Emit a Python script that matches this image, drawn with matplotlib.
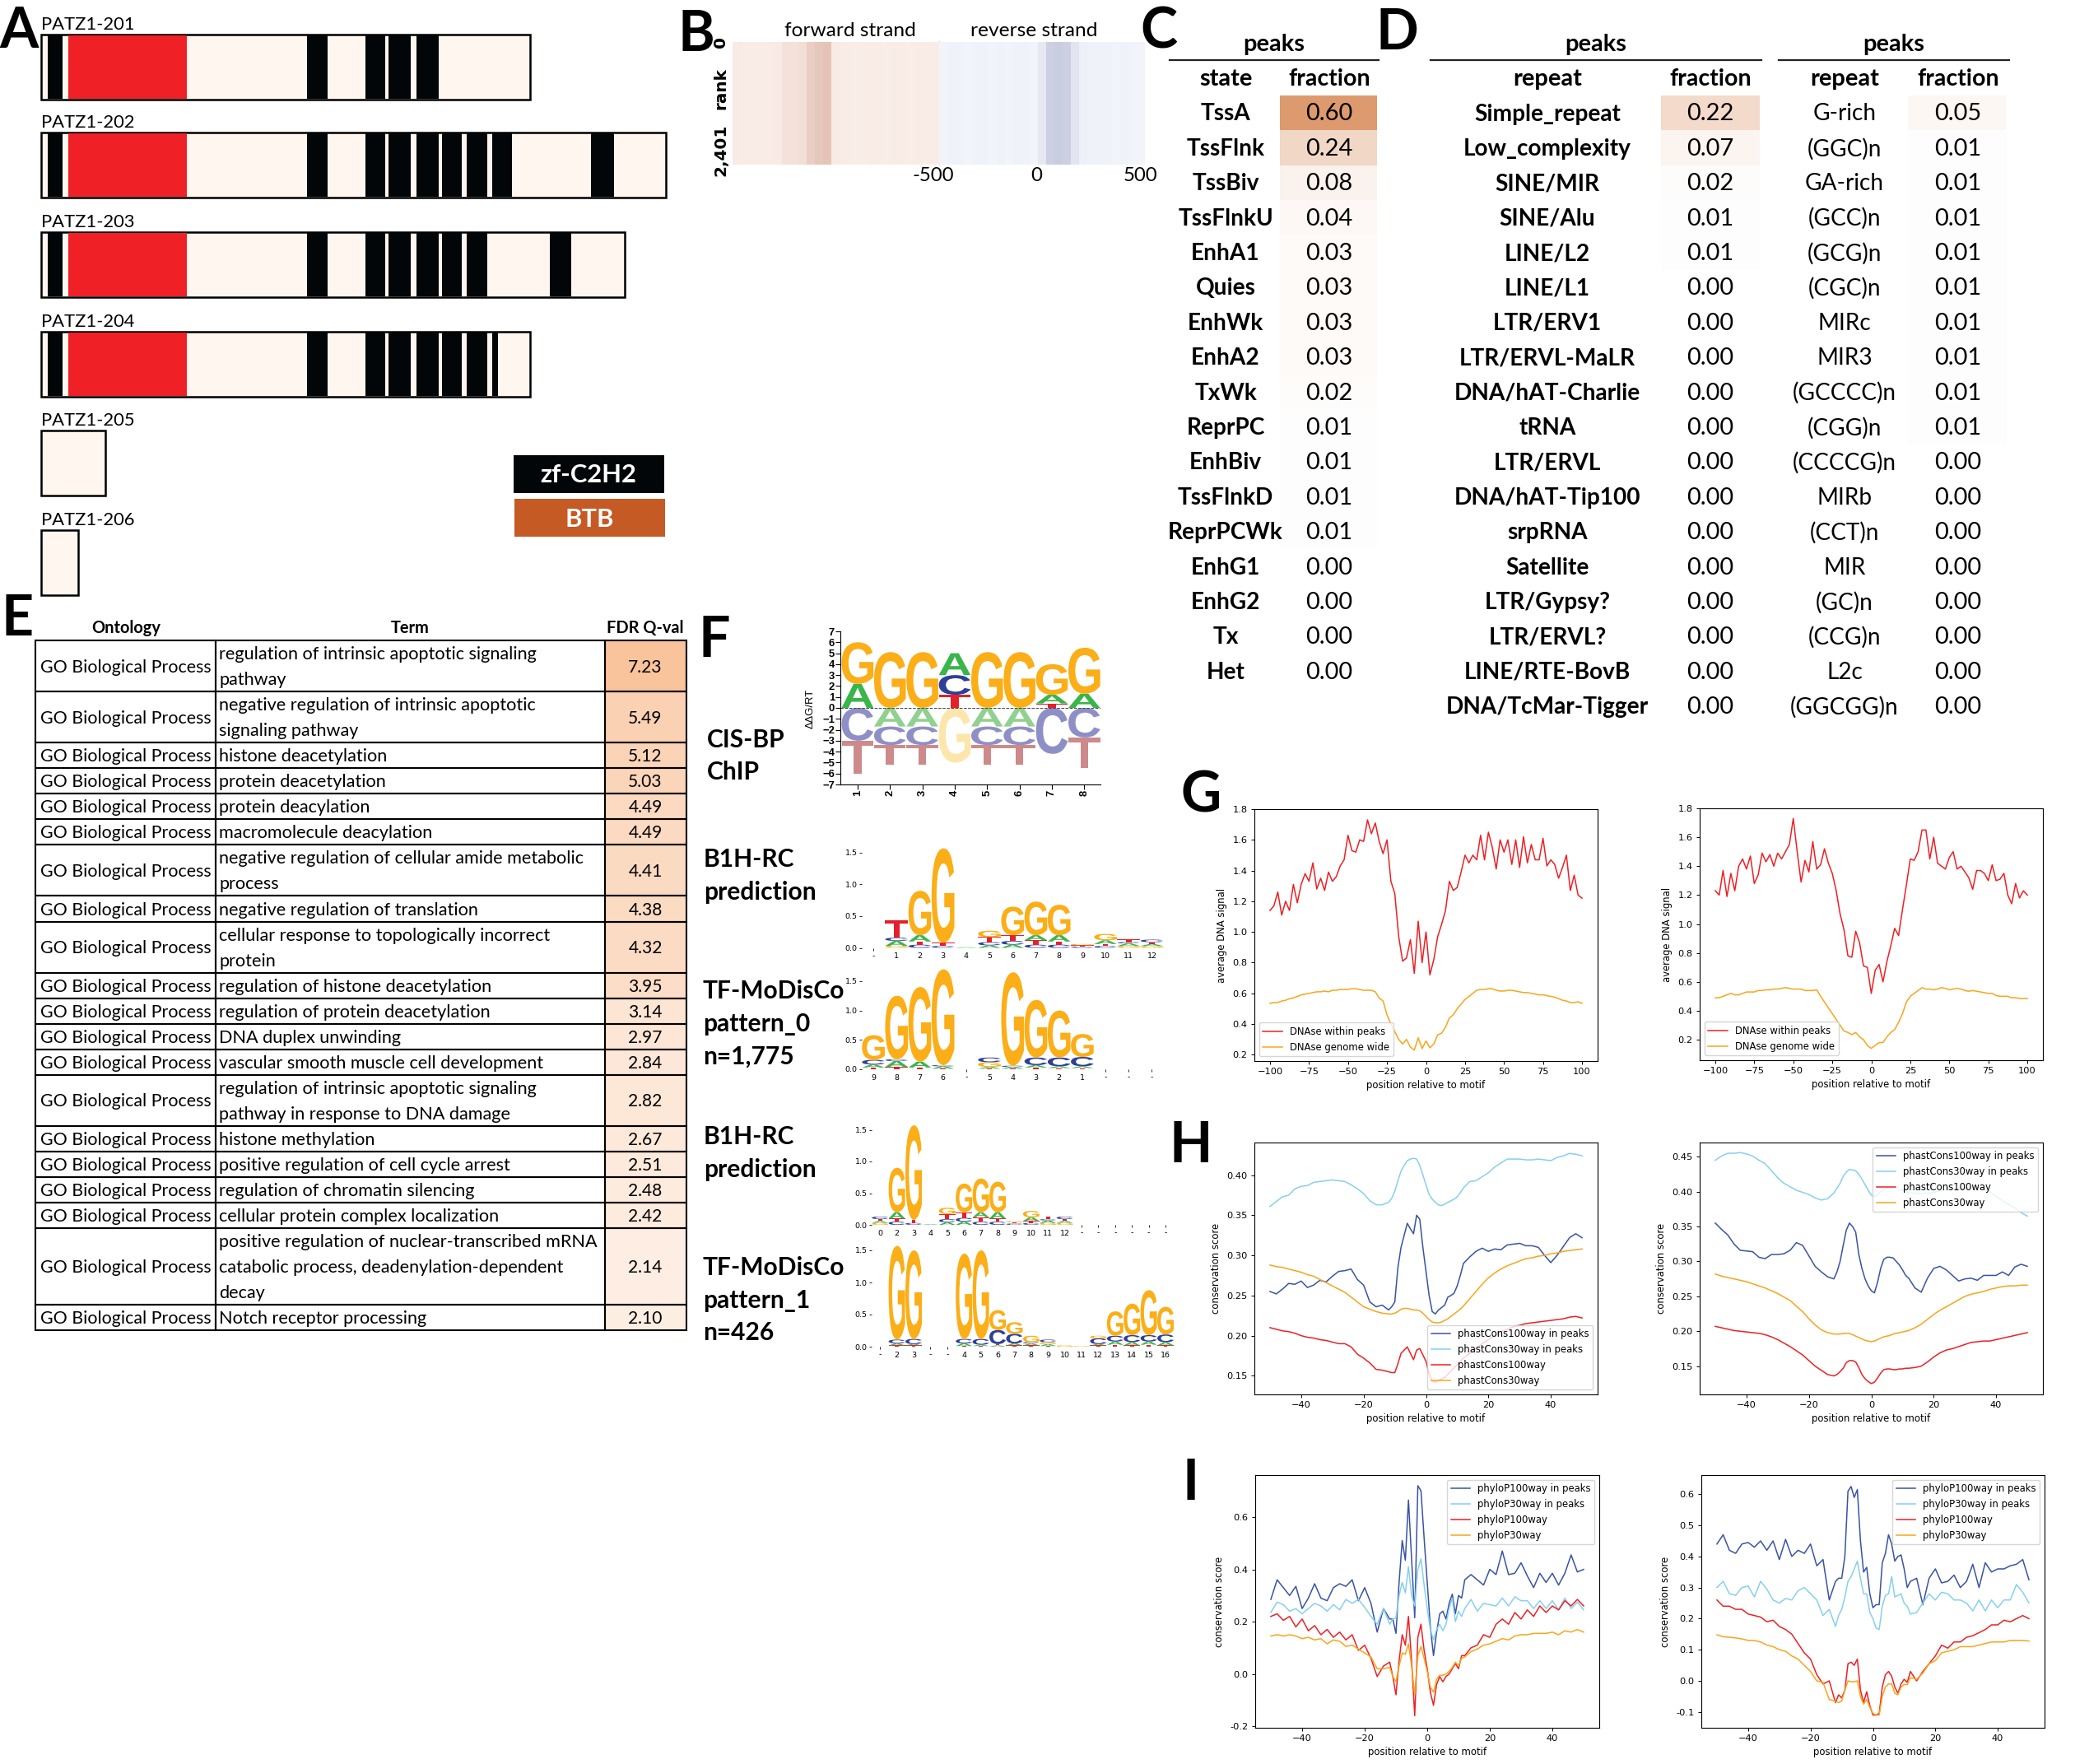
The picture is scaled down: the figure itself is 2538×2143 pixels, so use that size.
import numpy as np
import matplotlib
matplotlib.use('Agg')
import matplotlib.pyplot as plt
from matplotlib.colors import LinearSegmentedColormap
from matplotlib.font_manager import FontProperties
from matplotlib.patches import PathPatch, Rectangle
from matplotlib.textpath import TextPath
from matplotlib.transforms import Affine2D

W, H = 2538, 2143
plt.rcParams['font.family'] = ['Lato', 'DejaVu Sans']

# ---- panel A: transcript lengths and domains (units from start of the protein)
transcripts = ['PATZ1-201', 'PATZ1-202', 'PATZ1-203', 'PATZ1-204', 'PATZ1-205', 'PATZ1-206']
lengths = [594, 759, 709, 594, 78, 45]
btb = [(33, 177), (33, 177), (33, 177), (33, 177), None, None]
zf_common = [(8, 26), (323, 348), (394, 418), (422, 449), (456, 483)]
zf_extra = [[],
            [(487, 511), (517, 542), (548, 572), (668, 696)],
            [(487, 511), (517, 542), (618, 644)],
            [(487, 511), (517, 542), (548, 555)],
            None, None]

# ---- panel B: mean signal per column of each strand
fwd_profile = [.08, .07, .07, .07, .07, .08, .13, .13, .15, .24, .28, .30,
               .08, .07, .06, .06, .07, .07, .06, .07, .07, .06, .07, .07, .07]
rev_profile = [.04, .05, .05, .04, .05, .05, .04, .05, .04, .05, .05, .04,
               .10, .22, .24, .22, .12, .06, .05, .05, .05, .04, .05, .04, .04]

# ---- panels C, D
state_names = ['TssA', 'TssFlnk', 'TssBiv', 'TssFlnkU', 'EnhA1', 'Quies', 'EnhWk', 'EnhA2', 'TxWk',
               'ReprPC', 'EnhBiv', 'TssFlnkD', 'ReprPCWk', 'EnhG1', 'EnhG2', 'Tx', 'Het']
state_frac = [.60, .24, .08, .04, .03, .03, .03, .03, .02, .01, .01, .01, .01, 0, 0, 0, 0]
repeat_names = ['Simple_repeat', 'Low_complexity', 'SINE/MIR', 'SINE/Alu', 'LINE/L2', 'LINE/L1', 'LTR/ERV1',
                'LTR/ERVL-MaLR', 'DNA/hAT-Charlie', 'tRNA', 'LTR/ERVL', 'DNA/hAT-Tip100', 'srpRNA',
                'Satellite', 'LTR/Gypsy?', 'LTR/ERVL?', 'LINE/RTE-BovB', 'DNA/TcMar-Tigger']
repeat_frac = [.22, .07, .02, .01, .01, 0, 0, 0, 0, 0, 0, 0, 0, 0, 0, 0, 0, 0]
motif_names = ['G-rich', '(GGC)n', 'GA-rich', '(GCC)n', '(GCG)n', '(CGC)n', 'MIRc', 'MIR3', '(GCCCC)n',
               '(CGG)n', '(CCCCG)n', 'MIRb', '(CCT)n', 'MIR', '(GC)n', '(CCG)n', 'L2c', '(GGCGG)n']
motif_frac = [.05, .01, .01, .01, .01, .01, .01, .01, .01, .01, 0, 0, 0, 0, 0, 0, 0, 0]

# ---- panel E
go_terms = [['regulation of intrinsic apoptotic signaling', 'pathway'],
            ['negative regulation of intrinsic apoptotic', 'signaling pathway'],
            ['histone deacetylation'], ['protein deacetylation'], ['protein deacylation'],
            ['macromolecule deacylation'],
            ['negative regulation of cellular amide metabolic', 'process'],
            ['negative regulation of translation'],
            ['cellular response to topologically incorrect', 'protein'],
            ['regulation of histone deacetylation'], ['regulation of protein deacetylation'],
            ['DNA duplex unwinding'], ['vascular smooth muscle cell development'],
            ['regulation of intrinsic apoptotic signaling', 'pathway in response to DNA damage'],
            ['histone methylation'], ['positive regulation of cell cycle arrest'],
            ['regulation of chromatin silencing'], ['cellular protein complex localization'],
            ['positive regulation of nuclear-transcribed mRNA', 'catabolic process, deadenylation-dependent', 'decay'],
            ['Notch receptor processing']]
go_q = [7.23, 5.49, 5.12, 5.03, 4.49, 4.49, 4.41, 4.38, 4.32, 3.95, 3.14, 2.97, 2.84, 2.82, 2.67, 2.51,
        2.48, 2.42, 2.14, 2.10]

# ---- panel F: letter stacks, bottom to top (letter, height)
cisbp_pos = [[('A', 2.2), ('G', 3.8)], [('G', 5.1)], [('G', 5.1)], [('T', 1.2), ('C', 1.8), ('A', 2.0)],
             [('G', 5.1)], [('G', 5.1)], [('T', .4), ('A', .8), ('G', 2.8)], [('A', 1.3), ('G', 4.2)]]
cisbp_neg = [[('C', 3.0), ('T', 3.0)], [('A', 1.7), ('C', 1.7), ('T', 1.8)], [('A', 1.7), ('C', 1.7), ('T', 1.8)],
             [('G', 5.0)], [('A', 1.7), ('C', 1.7), ('T', 1.8)], [('A', 1.7), ('C', 1.7), ('T', 1.8)],
             [('C', 4.2)], [('C', 2.7), ('T', 2.8)]]
b1h_top = [[],
           [('G', .03), ('A', .08), ('C', .05), ('T', .27)],
           [('C', .05), ('T', .05), ('A', .10), ('G', .70)],
           [('C', .03), ('T', .05), ('G', 1.49)],
           [('A', .01)],
           [('A', .04), ('C', .05), ('T', .08), ('G', .10)],
           [('A', .05), ('C', .06), ('T', .09), ('G', .45)],
           [('C', .05), ('T', .07), ('A', .08), ('G', .53)],
           [('C', .05), ('T', .05), ('A', .10), ('G', .48)],
           [('C', .02), ('T', .02), ('G', .02)],
           [('C', .03), ('T', .03), ('A', .06), ('G', .10)],
           [('G', .03), ('A', .04), ('C', .02), ('T', .04)],
           [('G', .03), ('A', .03), ('T', .03), ('C', .04)]]
b1h_top_labels = ['-', '1', '2', '3', '4', '5', '6', '7', '8', '9', '10', '11', '12']
pattern0 = [[('T', .03), ('A', .05), ('C', .08), ('G', .42)],
            [('T', .04), ('A', .10), ('C', .03), ('G', 1.08)],
            [('T', .03), ('A', .10), ('G', 1.27)],
            [('T', .01), ('A', .04), ('C', .02), ('G', 1.63)],
            [],
            [('T', .01), ('A', .03), ('G', .08), ('C', .08)],
            [('T', .01), ('A', .03), ('C', .02), ('G', 1.59)],
            [('T', .03), ('A', .04), ('C', .13), ('G', .98)],
            [('T', .02), ('A', .03), ('C', .15), ('G', .80)],
            [('T', .02), ('A', .03), ('C', .16), ('G', .39)],
            [], [], []]
pattern0_labels = ['9', '8', '7', '6', '-', '5', '4', '3', '2', '1', '-', '-', '-']
b1h_low = [[('G', .03), ('A', .03), ('T', .03), ('C', .04)],
           [('C', .05), ('T', .05), ('A', .10), ('G', .70)],
           [('C', .03), ('T', .05), ('G', 1.49)],
           [('A', .01)],
           [('A', .04), ('C', .05), ('T', .08), ('G', .10)],
           [('A', .05), ('C', .06), ('T', .09), ('G', .45)],
           [('C', .05), ('T', .07), ('A', .08), ('G', .53)],
           [('C', .05), ('T', .05), ('A', .10), ('G', .48)],
           [('C', .02), ('T', .02), ('G', .02)],
           [('C', .03), ('T', .03), ('A', .06), ('G', .10)],
           [('G', .03), ('A', .04), ('C', .02), ('T', .04)],
           [('G', .03), ('A', .03), ('T', .03), ('C', .04)],
           [], [], [], [], [], []]
b1h_low_labels = ['0', '2', '3', '4', '5', '6', '7', '8', '9', '10', '11', '12', '-', '-', '-', '-', '-', '-']
pattern1 = [[],
            [('T', .02), ('A', .03), ('C', .06), ('G', 1.46)],
            [('T', .02), ('A', .02), ('C', .08), ('G', 1.38)],
            [], [],
            [('T', .01), ('A', .04), ('C', .07), ('G', 1.33)],
            [('T', .01), ('A', .02), ('C', .09), ('G', 1.38)],
            [('A', .02), ('T', .02), ('C', .22), ('G', .31)],
            [('T', .02), ('A', .03), ('C', .15), ('G', .18)],
            [('T', .02), ('A', .03), ('C', .02), ('G', .10)],
            [('T', .01), ('A', .03), ('G', .03), ('C', .04)],
            [('G', .02)], [('G', .01)],
            [('T', .02), ('A', .02), ('C', .09), ('G', .04)],
            [('T', .03), ('A', .05), ('C', .09), ('G', .38)],
            [('T', .02), ('A', .05), ('C', .11), ('G', .49)],
            [('T', .03), ('A', .05), ('C', .10), ('G', .70)],
            [('T', .02), ('A', .05), ('C', .12), ('G', .43)]]
pattern1_labels = ['-', '2', '3', '-', '-', '4', '5', '6', '7', '8', '9', '10', '11', '12', '13', '14', '15', '16']

# ---- panel G
dnase_peak_l = [1.14, 1.17, 1.26, 1.11, 1.20, 1.14, 1.31, 1.19, 1.31, 1.38, 1.33, 1.45, 1.28, 1.35, 1.27, 1.39, 1.33,
                1.36, 1.43, 1.47, 1.63, 1.53, 1.52, 1.60, 1.59, 1.73, 1.64, 1.71, 1.59, 1.51, 1.60, 1.33, 1.25, .97,
                .81, .83, .95, .73, 1.07, .80, 1.00, .72, .82, .97, 1.05, 1.14, 1.33, 1.27, 1.29, 1.39, 1.50, 1.45,
                1.50, 1.47, 1.63, 1.47, 1.65, 1.55, 1.41, 1.60, 1.52, 1.60, 1.44, 1.60, 1.42, 1.62, 1.45, 1.57, 1.47,
                1.47, 1.61, 1.43, 1.47, 1.44, 1.35, 1.42, 1.50, 1.27, 1.37, 1.24, 1.22]
dnase_wide_l = [.535, .54, .54, .55, .555, .565, .57, .58, .59, .595, .60, .605, .61, .61, .615, .61, .62, .62, .625,
                .625, .625, .63, .63, .625, .62, .62, .62, .61, .57, .55, .46, .40, .35, .30, .27, .30, .25, .23, .31,
                .24, .29, .245, .27, .33, .34, .38, .44, .46, .50, .53, .56, .58, .60, .62, .625, .625, .63, .63, .62,
                .615, .615, .62, .62, .615, .61, .605, .605, .60, .595, .59, .59, .585, .58, .575, .565, .555, .55,
                .54, .54, .545, .535]
dnase_peak_r = [1.23, 1.20, 1.37, 1.19, 1.35, 1.23, 1.40, 1.45, 1.38, 1.47, 1.28, 1.34, 1.49, 1.43, 1.48, 1.40, 1.49,
                1.45, 1.50, 1.55, 1.73, 1.50, 1.29, 1.44, 1.36, 1.57, 1.38, 1.41, 1.52, 1.42, 1.35, 1.23, 1.07, .96,
                .78, .77, .95, .87, .71, .70, .52, .68, .72, .60, .74, .85, .97, .92, 1.10, 1.27, 1.45, 1.44, 1.50,
                1.65, 1.65, 1.45, 1.60, 1.42, 1.40, 1.38, 1.46, 1.50, 1.38, 1.40, 1.36, 1.32, 1.24, 1.37, 1.37, 1.35,
                1.30, 1.41, 1.30, 1.31, 1.35, 1.20, 1.14, 1.28, 1.18, 1.23, 1.20]
dnase_wide_r = [.49, .49, .50, .51, .52, .51, .51, .52, .53, .53, .53, .54, .54, .545, .545, .55, .55, .555, .56, .555,
                .55, .55, .55, .54, .54, .54, .545, .50, .46, .42, .38, .34, .30, .26, .25, .235, .25, .22, .20, .16,
                .14, .16, .18, .18, .22, .25, .27, .32, .38, .46, .50, .52, .54, .56, .55, .55, .545, .55, .56, .555,
                .545, .55, .555, .55, .54, .535, .54, .535, .53, .525, .52, .52, .505, .50, .50, .50, .49, .49, .485,
                .485, .485]

# ---- panels H and I share these positions
motif_pos = list(range(-50, -13, 2)) + list(range(-12, 13)) + list(range(14, 51, 2))

cons100_peak_l = [.255, .252, .258, .265, .264, .268, .260, .263, .269, .267, .274, .280, .281, .283, .270, .263, .242,
                  .236, .238, .232, .236, .242, .285, .31, .325, .34, .333, .327, .35, .345, .31, .28, .25, .23, .227,
                  .232, .235, .238, .248, .25, .253, .262, .275, .29, .298, .305, .309, .305, .308, .307, .313, .314,
                  .315, .312, .312, .31, .30, .291, .30, .311, .322, .327, .322]
cons30_peak_l = [.361, .367, .373, .375, .383, .386, .387, .391, .392, .393, .394, .393, .392, .388, .383, .377, .368,
                 .363, .363, .366, .371, .38, .393, .405, .412, .418, .42, .421, .42, .412, .40, .388, .376, .37, .366,
                 .363, .362, .364, .366, .368, .37, .373, .378, .384, .392, .393, .398, .403, .41, .415, .42, .42, .42,
                 .419, .419, .42, .419, .418, .422, .424, .427, .426, .424]
cons100_l = [.21, .208, .206, .205, .203, .20, .198, .197, .195, .194, .192, .19, .19, .186, .177, .172, .166, .158,
             .157, .155, .154, .154, .165, .178, .182, .186, .178, .17, .182, .184, .176, .168, .152, .143, .142, .144,
             .146, .148, .152, .156, .16, .164, .168, .172, .178, .184, .19, .195, .20, .205, .208, .211, .213, .215,
             .216, .217, .218, .219, .22, .221, .223, .224, .222]
cons30_l = [.288, .286, .285, .283, .281, .279, .276, .274, .27, .266, .262, .258, .254, .248, .242, .236, .233, .23,
            .228, .227, .227, .228, .23, .233, .234, .234, .233, .232, .232, .231, .228, .224, .22, .217, .216, .216,
            .217, .219, .221, .224, .227, .23, .233, .237, .246, .255, .264, .272, .278, .283, .287, .29, .293, .296,
            .297, .299, .30, .302, .303, .305, .306, .307, .308]
cons100_peak_r = [.355, .346, .338, .325, .316, .315, .314, .306, .304, .31, .31, .311, .316, .327, .323, .308, .293,
                  .285, .278, .275, .285, .30, .323, .345, .355, .35, .342, .31, .29, .275, .265, .258, .255, .27, .29,
                  .303, .306, .306, .305, .30, .295, .288, .28, .276, .262, .256, .276, .29, .293, .288, .28, .272,
                  .275, .276, .273, .28, .28, .28, .285, .28, .292, .296, .293]
cons30_peak_r = [.445, .451, .455, .455, .456, .454, .451, .445, .44, .43, .42, .412, .407, .402, .399, .396, .391,
                 .388, .39, .398, .405, .412, .422, .428, .432, .431, .43, .425, .418, .41, .402, .395, .393, .395, .40,
                 .403, .405, .405, .405, .404, .403, .402, .40, .398, .398, .397, .398, .399, .401, .403, .404, .405,
                 .405, .406, .406, .405, .40, .393, .387, .382, .377, .37, .365]
cons100_r = [.207, .205, .203, .201, .20, .199, .198, .197, .195, .192, .188, .183, .178, .172, .166, .158, .15, .144,
             .138, .136, .138, .142, .147, .155, .158, .158, .156, .148, .138, .132, .128, .125, .127, .133, .14, .145,
             .146, .146, .145, .145, .146, .146, .147, .147, .148, .15, .156, .163, .169, .173, .175, .178, .181, .184,
             .185, .186, .186, .188, .19, .192, .194, .196, .198]
cons30_r = [.282, .279, .277, .275, .273, .271, .268, .265, .262, .258, .254, .249, .244, .236, .228, .218, .209, .202,
            .198, .196, .196, .196, .197, .197, .197, .195, .193, .191, .189, .187, .186, .185, .186, .188, .19, .192,
            .193, .194, .196, .197, .198, .199, .20, .201, .205, .21, .217, .224, .23, .235, .24, .245, .25, .253, .255,
            .257, .26, .262, .264, .265, .265, .266, .266]

phylo100_peak_l = [.285, .36, .33, .30, .335, .25, .29, .345, .29, .28, .33, .345, .335, .36, .28, .33, .27, .16, .25,
                   .21, .21, .155, .35, .51, .435, .665, .44, .215, .72, .70, .52, .35, .18, .07, .16, .23, .24, .21,
                   .27, .305, .23, .30, .29, .36, .38, .36, .34, .40, .38, .47, .38, .385, .425, .375, .33, .385, .35,
                   .385, .34, .385, .455, .39, .40]
phylo30_peak_l = [.235, .275, .265, .24, .25, .23, .25, .27, .26, .24, .265, .245, .285, .27, .285, .255, .22, .19, .25,
                  .19, .21, .215, .30, .35, .31, .41, .30, .26, .40, .44, .34, .25, .17, .13, .17, .19, .165, .19, .25,
                  .29, .20, .24, .22, .25, .285, .24, .27, .265, .26, .29, .26, .295, .28, .28, .25, .28, .25, .28,
                  .245, .29, .25, .275, .245]
phylo100_l = [.22, .23, .205, .22, .18, .21, .165, .185, .15, .17, .14, .16, .13, .15, .09, .11, .06, -.01, .03, .045,
              -.01, -.08, .05, .15, .11, .22, .05, -.16, .14, .19, .09, .02, -.07, -.12, -.04, -.01, -.03, -.01, 0,
              .02, .04, .02, .07, .07, .10, .11, .15, .14, .19, .21, .19, .235, .21, .245, .22, .26, .235, .26, .245,
              .28, .26, .285, .26]
phylo30_l = [.145, .15, .145, .15, .145, .135, .14, .13, .135, .115, .13, .125, .105, .11, .095, .08, .065, .02, .02,
             .025, -.01, -.03, .03, .08, .075, .115, .03, -.08, .07, .105, .06, .01, -.05, -.07, -.02, -.005, -.005,
             0, .01, .025, .045, .03, .06, .065, .085, .095, .11, .115, .125, .135, .13, .145, .15, .15, .155, .155,
             .155, .16, .15, .165, .16, .17, .16]
phylo100_peak_r = [.44, .47, .42, .41, .44, .445, .43, .45, .42, .45, .39, .455, .40, .42, .41, .44, .37, .39, .26, .32,
                   .33, .33, .40, .61, .625, .59, .615, .45, .35, .365, .28, .235, .245, .245, .38, .41, .47, .44, .385,
                   .40, .405, .36, .30, .32, .33, .245, .33, .36, .315, .32, .34, .30, .32, .375, .30, .38, .35, .36,
                   .36, .37, .375, .39, .325]
phylo30_peak_r = [.30, .32, .28, .275, .30, .305, .27, .32, .295, .26, .25, .265, .26, .29, .30, .28, .26, .21, .23,
                  .175, .21, .23, .27, .32, .335, .36, .385, .33, .28, .28, .22, .20, .17, .165, .24, .275, .28, .335,
                  .27, .275, .28, .25, .24, .215, .22, .25, .28, .26, .285, .28, .26, .26, .25, .225, .26, .225, .26,
                  .235, .26, .26, .31, .285, .25]
phylo100_r = [.26, .24, .24, .23, .23, .215, .21, .205, .19, .195, .175, .165, .15, .12, .09, .07, .02, -.01, 0, -.07,
              -.045, -.055, -.03, .055, .06, .05, .07, -.03, -.07, -.035, -.08, -.11, -.11, -.105, -.02, .02, .03,
              .015, -.02, -.04, -.01, .005, -.005, .03, 0, .03, .055, .08, .115, .105, .125, .125, .14, .145, .155,
              .165, .18, .18, .195, .19, .20, .21, .20]
phylo30_r = [.148, .142, .14, .138, .135, .13, .13, .125, .115, .11, .10, .095, .08, .07, .05, .03, 0, -.005, -.06,
             -.065, -.07, -.065, -.03, 0, -.003, -.003, 0, -.05, -.075, -.06, -.085, -.105, -.11, -.11, -.05, -.02,
             -.01, -.01, -.04, -.045, -.02, -.012, -.012, .01, .005, .025, .055, .065, .09, .095, .10, .11, .11, .11,
             .115, .12, .125, .125, .125, .13, .13, .13, .128]

RED, ORANGE, NAVY, SKY = '#EE2024', '#F9A51A', '#3953A4', '#86D0F0'
LOGO_COL = {'G': '#FBAE17', 'A': '#39B54A', 'C': '#2E3F97', 'T': '#E5202A'}
LOGO_PALE = {'G': '#FDE6AC', 'A': '#90D090', 'C': '#8F8FC8', 'T': '#CC8A8A'}
SANS = ['DejaVu Sans']

fig = plt.figure(figsize=(W / 100, H / 100), dpi=100)
bg = fig.add_axes([0, 0, 1, 1])
bg.set_xlim(0, W)
bg.set_ylim(H, 0)
bg.axis('off')


def pt(px):
    return px * 0.72


def add_ax(x0, y0, x1, y1):
    return fig.add_axes([x0 / W, 1 - y1 / H, (x1 - x0) / W, (y1 - y0) / H])


def box(x0, y0, x1, y1, fc, ec='none', lw=0, z=1):
    bg.add_patch(Rectangle((x0, y0), x1 - x0, y1 - y0, facecolor=fc, edgecolor=ec, linewidth=lw, zorder=z))


# panel letters
for s, x, y in [('A', 23, 39), ('B', 846, 42), ('C', 1408, 39), ('D', 1697, 40), ('E', 21, 753),
                ('F', 868, 779), ('G', 1459, 967), ('H', 1447, 1392), ('I', 1447, 1802)]:
    bg.text(x, y, s, fontsize=pt(68), fontweight='bold', ha='center', va='center', color='k')

# A
rows_y = [42, 161, 282, 403, 523, 644]
for i, name in enumerate(transcripts):
    y0 = rows_y[i]
    y1 = y0 + 79
    bg.text(50, y0 - 12, name, fontsize=pt(22), ha='left', va='center')
    box(50, y0, 50 + lengths[i], y1, '#FFF6F0', 'k', 1.8, 1)
    if btb[i] is not None:
        box(50 + btb[i][0], y0 + 1, 50 + btb[i][1], y1 - 1, '#EF2026', z=2)
        for a, b in zf_common + zf_extra[i]:
            box(50 + a, y0 + 1, 50 + b, y1 - 1, '#020608', z=2)
box(624, 553, 807, 599, '#020608')
box(625, 606, 808, 652, '#C55A25')
bg.text(715, 577, 'zf-C2H2', color='w', fontsize=pt(31), fontweight='bold', ha='center', va='center')
bg.text(716, 631, 'BTB', color='w', fontsize=pt(31), fontweight='bold', ha='center', va='center')

# B
fwd_cmap = LinearSegmentedColormap.from_list('fwd', ['#FFF8F5', '#A84A28'])
rev_cmap = LinearSegmentedColormap.from_list('rev', ['#FAFCFF', '#303880'])
ax_f = add_ax(890, 51, 1141, 200)
ax_f.imshow(np.array(fwd_profile)[None, :], aspect='auto', cmap=fwd_cmap, vmin=0, vmax=1, interpolation='nearest')
ax_f.axis('off')
ax_r = add_ax(1141, 51, 1391, 200)
ax_r.imshow(np.array(rev_profile)[None, :], aspect='auto', cmap=rev_cmap, vmin=0, vmax=1, interpolation='nearest')
ax_r.axis('off')
bg.plot([1141, 1141], [50, 200], color='#C8CCD8', lw=0.8)
bg.text(1033, 38, 'forward strand', fontsize=pt(24.5), ha='center', va='center')
bg.text(1256, 38, 'reverse strand', fontsize=pt(24.5), ha='center', va='center')
for s, x in [('-500', 1134), ('0', 1259), ('500', 1386)]:
    bg.text(x, 214, s, fontsize=pt(24), ha='center', va='center')
for s, y in [('0', 51), ('rank', 108), ('2,401', 182)]:
    bg.text(876, y, s, fontsize=pt(20), family=SANS, fontweight='bold', rotation=90, ha='center', va='center')

# C, D
frac_cmap = LinearSegmentedColormap.from_list('frac', ['#FFFFFF', '#DD9A6E'])


def frac_table(names, vals, xn, xf, cell, bold, head):
    bg.text(xn, 96, head, fontsize=pt(29), fontweight='bold', ha='center', va='center')
    bg.text(xf, 96, 'fraction', fontsize=pt(28.5), fontweight='bold', ha='center', va='center')
    for i, (n, v) in enumerate(zip(names, vals)):
        y = 137 + i * 42.4
        box(cell[0], y - 21.2, cell[1], y + 21.2, frac_cmap(v / .6), z=0)
        bg.text(xn, y + 1.5, n, fontsize=pt(28), fontweight='bold' if bold else 'normal', ha='center', va='center')
        bg.text(xf, y + 1.5, '%.2f' % v, fontsize=pt(29), ha='center', va='center')


frac_table(state_names, state_frac, 1489, 1615, (1555, 1673), True, 'state')
frac_table(repeat_names, repeat_frac, 1880, 2078, (2018, 2138), True, 'repeat')
frac_table(motif_names, motif_frac, 2241, 2379, (2318, 2438), False, 'repeat')
for x0, x1 in [(1421, 1675), (1738, 2140), (2161, 2441)]:
    bg.plot([x0, x1], [73, 73], color='#222222', lw=1.6)
    bg.text((x0 + x1) / 2, 54, 'peaks', fontsize=pt(29), fontweight='bold', ha='center', va='center')

# E
go_cmap = LinearSegmentedColormap.from_list('go', ['#FFFFFF', '#F9C39B'])
col_x = [43, 262, 735, 834]
line_h = 31.05
for s, x in [('Ontology', 153), ('Term', 498), ('FDR Q-val', 784)]:
    bg.text(x, 763, s, fontsize=pt(20), fontweight='bold', ha='center', va='center')
y = 778
for lines, q in zip(go_terms, go_q):
    h = len(lines) * line_h
    box(col_x[2], y, col_x[3], y + h, go_cmap(q / 7.23), z=1)
    for cx0, cx1 in zip(col_x[:-1], col_x[1:]):
        box(cx0, y, cx1, y + h, 'none', 'k', 1.5, 3)
    bg.text(153, y + h / 2 + 1.5, 'GO Biological Process', fontsize=pt(21.4), ha='center', va='center', zorder=4)
    for k, line in enumerate(lines):
        bg.text(266, y + (k + .5) * line_h + 1.5, line, fontsize=pt(21.6), ha='left', va='center', zorder=4)
    bg.text(784, y + h / 2 + 1.5, '%.2f' % q, fontsize=pt(21), ha='center', va='center', zorder=4)
    y += h

# F labels
for s, x, y in [('CIS-BP', 859, 899), ('ChIP', 859, 938), ('B1H-RC', 855, 1044), ('prediction', 855, 1084),
                ('TF-MoDisCo', 854, 1204), ('pattern_0', 854, 1244), ('n=1,775', 854, 1284),
                ('B1H-RC', 855, 1381), ('prediction', 855, 1421), ('TF-MoDisCo', 854, 1540),
                ('pattern_1', 854, 1580), ('n=426', 854, 1619)]:
    bg.text(x, y, s, fontsize=pt(30), fontweight='bold', ha='left', va='center')

letter_font = FontProperties(family='Liberation Sans', weight='bold')


def draw_letter(ax, ch, x, y0, y1, color, width=0.98):
    tp = TextPath((0, 0), ch, size=1, prop=letter_font)
    bb = tp.get_extents()
    tr = Affine2D().translate(-bb.x0, -bb.y0).scale(width / bb.width, (y1 - y0) / bb.height)
    tr = tr.translate(x - width / 2, y0)
    ax.add_patch(PathPatch(tp, facecolor=color, edgecolor='none', transform=tr + ax.transData))


def draw_stack(ax, stacks, colors=LOGO_COL, sign=1, first=0):
    for i, stack in enumerate(stacks):
        base = 0
        for ch, hgt in stack:
            top = base + hgt
            if sign > 0:
                draw_letter(ax, ch, i + first, base, top, colors[ch])
            else:
                draw_letter(ax, ch, i + first, -top, -base, colors[ch])
            base = top


ax = add_ax(1021, 767, 1337, 953)
draw_stack(ax, cisbp_pos, first=1)
draw_stack(ax, cisbp_neg, colors=LOGO_PALE, sign=-1, first=1)
ax.axhline(0, color='#444444', lw=0.7, ls='--')
ax.set_xlim(.47, 8.5)
ax.set_ylim(-7, 7)
ax.set_yticks(range(-7, 8))
ax.set_xticks(range(1, 9))
ax.set_xticklabels(range(1, 9), rotation=90)
ax.tick_params(labelsize=pt(13), length=4, width=0.8, pad=1)
for lab in ax.get_xticklabels() + ax.get_yticklabels():
    lab.set_family(['Liberation Sans'])
    lab.set_fontweight('bold')
for sp in ['top', 'right']:
    ax.spines[sp].set_visible(False)
bg.text(985, 861, '\u0394\u0394G/RT', fontsize=pt(13), family=['Liberation Sans'], rotation=90, ha='center', va='center')


def small_logo(stacks, labels, x0, step, y_zero, unit, ytop):
    n = len(stacks)
    a = add_ax(x0, y_zero - unit * ytop, x0 + n * step, y_zero)
    draw_stack(a, stacks)
    a.set_xlim(-.5, n - .5)
    a.set_ylim(0, ytop)
    a.set_yticks([0, .5, 1, 1.5])
    a.set_yticklabels(['0.0', '0.5', '1.0', '1.5'])
    a.set_xticks(range(n))
    a.set_xticklabels(labels)
    a.tick_params(labelsize=pt(9.5), length=2, width=0.6, pad=2)
    for lab in a.get_xticklabels() + a.get_yticklabels():
        lab.set_family(SANS)
    for tick, lab in zip(a.xaxis.get_major_ticks(), labels):
        tick.tick1line.set_visible(lab == '-')
    for sp in a.spines.values():
        sp.set_visible(False)


small_logo(b1h_top, b1h_top_labels, 1047, 28.2, 1151.5, 77, 1.6)
small_logo(pattern0, pattern0_labels, 1047, 28.2, 1299, 71.4, 1.75)
small_logo(b1h_low, b1h_low_labels, 1059, 20.4, 1488, 77, 1.6)
small_logo(pattern1, pattern1_labels, 1059, 20.4, 1636, 78, 1.6)


def line_panel(rect, xs, series, xlim, ylim, yticks, yfmt, xticks, ylabel, loc):
    a = add_ax(*rect)
    for ys, col, lab in series:
        a.plot(xs, ys, color=col, lw=1.1, label=lab)
    a.set_xlim(*xlim)
    a.set_ylim(*ylim)
    a.set_yticks(yticks)
    a.set_yticklabels([yfmt % t for t in yticks])
    a.set_xticks(xticks)
    a.set_xticklabels([str(t).replace('-', '\u2212') for t in xticks])
    a.tick_params(labelsize=pt(11.4), length=3, width=0.7, pad=3)
    a.set_xlabel('position relative to motif', fontsize=pt(11.6), family=SANS, labelpad=3.5)
    a.set_ylabel(ylabel, fontsize=pt(11.6), family=SANS, labelpad=4.5)
    for lab in a.get_xticklabels() + a.get_yticklabels():
        lab.set_family(SANS)
    for sp in a.spines.values():
        sp.set_linewidth(0.8)
    a.legend(loc=loc, prop={'family': SANS, 'size': pt(11.6)})
    return a


pos_g = np.linspace(-100, 100, 81)
ticks_g = list(range(-100, 101, 25))
yt_g = [.2, .4, .6, .8, 1.0, 1.2, 1.4, 1.6, 1.8]
line_panel((1524, 983, 1941, 1289), pos_g,
           [(dnase_peak_l, RED, 'DNAse within peaks'), (dnase_wide_l, ORANGE, 'DNAse genome wide')],
           (-110, 110), (.159, 1.8), yt_g, '%.1f', ticks_g, 'average DNA signal', 'lower left')
line_panel((2065, 982, 2482, 1288), pos_g,
           [(dnase_peak_r, RED, 'DNAse within peaks'), (dnase_wide_r, ORANGE, 'DNAse genome wide')],
           (-110, 110), (.058, 1.8), yt_g, '%.1f', ticks_g, 'average DNA signal', 'lower left')

ticks_m = [-40, -20, 0, 20, 40]
line_panel((1524, 1388, 1941, 1694), motif_pos,
           [(cons100_peak_l, NAVY, 'phastCons100way in peaks'), (cons30_peak_l, SKY, 'phastCons30way in peaks'),
            (cons100_l, RED, 'phastCons100way'), (cons30_l, ORANGE, 'phastCons30way')],
           (-55, 55), (.1268, .4406), [.15, .20, .25, .30, .35, .40], '%.2f', ticks_m, 'conservation score',
           'lower right')
line_panel((2065, 1388, 2482, 1694), motif_pos,
           [(cons100_peak_r, NAVY, 'phastCons100way in peaks'), (cons30_peak_r, SKY, 'phastCons30way in peaks'),
            (cons100_r, RED, 'phastCons100way'), (cons30_r, ORANGE, 'phastCons30way')],
           (-55, 55), (.1095, .4704), [.15, .20, .25, .30, .35, .40, .45], '%.2f', ticks_m, 'conservation score',
           'upper right')
line_panel((1525, 1792, 1943, 2099), motif_pos,
           [(phylo100_peak_l, NAVY, 'phyloP100way in peaks'), (phylo30_peak_l, SKY, 'phyloP30way in peaks'),
            (phylo100_l, RED, 'phyloP100way'), (phylo30_l, ORANGE, 'phyloP30way')],
           (-55, 55), (-.206, .7606), [-.2, 0, .2, .4, .6], '%.1f', ticks_m, 'conservation score', 'upper right')
line_panel((2067, 1792, 2484, 2099), motif_pos,
           [(phylo100_peak_r, NAVY, 'phyloP100way in peaks'), (phylo30_peak_r, SKY, 'phyloP30way in peaks'),
            (phylo100_r, RED, 'phyloP100way'), (phylo30_r, ORANGE, 'phyloP30way')],
           (-55, 55), (-.151, .6618), [-.1, 0, .1, .2, .3, .4, .5, .6], '%.1f', ticks_m, 'conservation score',
           'upper right')

fig.savefig('out.png', dpi=100)
